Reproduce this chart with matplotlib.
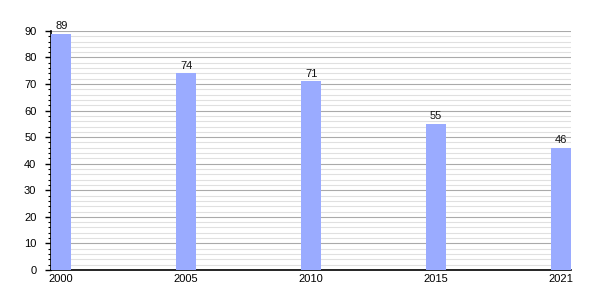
import matplotlib
matplotlib.use("Agg")
import matplotlib.pyplot as plt
from matplotlib.ticker import MultipleLocator

plt.rcParams["font.family"] = ["Liberation Sans", "DejaVu Sans"]

years = ["2000", "2005", "2010", "2015", "2021"]
values = [89, 74, 71, 55, 46]

BAR_W = 0.164
fig = plt.figure(figsize=(6, 3), dpi=100)
ax = fig.add_axes([0.085, 0.1, 0.867, 0.797])

xs = list(range(len(years)))
bars = ax.bar(xs, values, width=BAR_W, align="edge", color="#9aabff", zorder=3)
for b, v in zip(bars, values):
    ax.text(b.get_x() + b.get_width() / 2, v + 1.0, str(v), ha="center", va="bottom",
            fontsize=8, color="#111111")

ax.set_xlim(0, len(years) - 1 + BAR_W)
ax.set_ylim(0, 90)
ax.set_xticks([x + BAR_W / 2 for x in xs])
ax.set_xticklabels(years)
ax.yaxis.set_major_locator(MultipleLocator(10))
ax.yaxis.set_minor_locator(MultipleLocator(2))
ax.grid(axis="y", which="major", color="#aaaaaa", lw=0.8, zorder=0)
ax.grid(axis="y", which="minor", color="#e0e0e0", lw=0.8, zorder=0)
ax.tick_params(axis="x", length=0, labelsize=8, pad=3)
ax.tick_params(axis="y", which="major", length=4.5, width=1, labelsize=8, pad=6)
ax.tick_params(axis="y", which="minor", length=2.5, width=0.8)
for s in ("top", "right"):
    ax.spines[s].set_visible(False)
ax.spines["left"].set_linewidth(1.2)
ax.spines["bottom"].set_linewidth(1.2)

fig.savefig("out.png", dpi=100)
